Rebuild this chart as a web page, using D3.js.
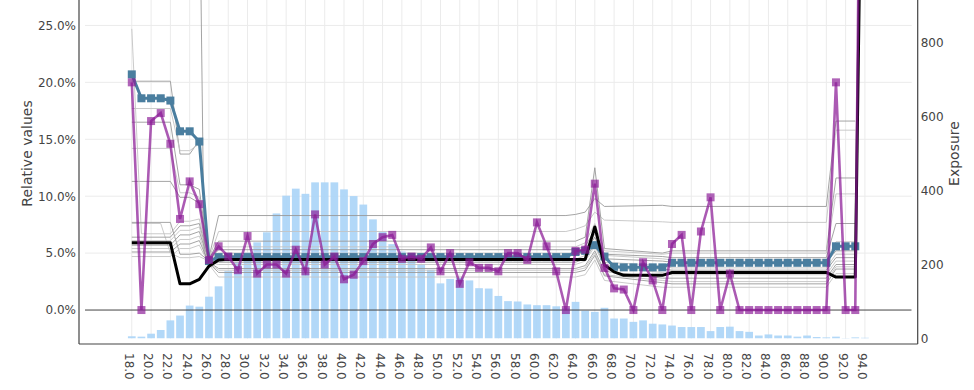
<!DOCTYPE html>
<html><head><meta charset="utf-8">
<script src="https://cdn.jsdelivr.net/npm/d3@7"></script>
<style>
body{margin:0;background:#fff;}
svg text{font-family:"DejaVu Sans",sans-serif;fill:#444;}
</style>
</head><body>
<svg id="chart" width="974" height="390"></svg>
<script>
// ---------- data ----------
const ages = [18,19,20,21,22,23,24,25,26,27,28,29,30,31,32,33,34,35,36,37,38,39,40,41,42,43,44,45,46,47,48,49,50,51,52,53,54,55,56,57,58,59,60,61,62,63,64,65,66,67,68,69,70,71,72,73,74,75,76,77,78,79,80,81,82,83,84,85,86,87,88,89,90,91,92,93,94];

const exposure = [6,5,13,23,49,62,89,86,113,141,
  182,205,232,260,287,338,386,405,391,422,
  422,422,403,385,362,322,288,255,235,215,
  200,186,149,161,164,157,136,135,115,101,
  100,92,90,90,87,82,99,75,72,83,
  54,54,45,49,40,38,35,31,31,31,
  20,31,32,20,18,8,11,8,8,5,
  8,4,3,5,1,3,2];

const observed = [20.0,0,16.6,17.3,14.6,8.0,11.3,9.3,4.4,5.6,
  4.7,3.5,6.5,3.2,4.0,4.0,3.2,5.3,3.4,8.4,
  4.0,4.7,2.7,3.1,4.3,5.8,6.4,6.6,4.5,4.7,
  4.5,5.5,3.4,5.0,2.3,4.2,3.7,3.7,3.4,5.0,
  5.0,4.4,7.7,5.6,3.4,0,5.2,5.3,11.1,3.7,
  1.9,1.8,0,4.2,2.6,0,5.8,6.6,0,6.9,
  9.9,0,3.2,0,0,0,0,0,0,0,
  0,0,0,20.0,0,0,90];

const fitted = [20.7,18.6,18.6,18.6,18.4,15.7,15.7,14.8,4.3,
  4.65,4.65,4.65,4.65,4.65,4.65,4.65,4.65,4.65,4.65,
  4.65,4.65,4.65,4.65,4.65,4.65,4.65,4.65,4.65,4.65,
  4.65,4.65,4.65,4.65,4.65,4.65,4.65,4.65,4.65,4.65,
  4.65,4.65,4.65,4.65,4.65,4.65,4.65,
  5.1,5.2,5.7,4.7,3.8,
  3.75,3.75,3.75,3.75,3.75,
  4.15,4.15,4.15,4.15,4.15,4.15,4.15,4.15,4.15,4.15,
  4.15,4.15,4.15,4.15,4.15,4.15,4.15,
  5.6,5.6,5.6,null];

const model = [5.9,5.9,5.9,5.9,5.9,2.3,2.3,2.7,3.85,4.4,
  4.45,4.45,4.45,4.45,4.45,4.45,4.45,4.45,4.45,4.45,
  4.45,4.45,4.45,4.45,4.45,4.45,4.45,4.45,4.45,4.45,
  4.45,4.45,4.45,4.45,4.45,4.45,4.45,4.45,4.45,4.45,
  4.45,4.45,4.45,4.45,4.45,4.45,4.45,4.45,
  7.3,3.95,3.35,
  3.05,3.05,3.05,3.05,3.05,
  3.3,3.3,3.3,3.3,3.3,3.3,3.3,3.3,3.3,3.3,
  3.3,3.3,3.3,3.3,3.3,3.3,3.3,
  2.9,2.9,2.9,63];

// thin grey profile lines: [age, value %] vertices
const grayLines = [
  [[18,20.1],[22,20.1],[23,13.7],[24,13.7],[25,14.9],[26,4.6],[27,8.3],[63,8.3],[64,8.4],[65,8.6],[66,9.8],[67,9.1],[73,9.2],[74,9.1],[90,9.1],[91,16.6],[93,16.6]],
  [[18,17.7],[22,17.7],[23,14.0],[24,14.0],[25,14.6],[26,4.5],[27,6.9],[63,6.9],[64,7.1],[65,7.4],[66,8.6],[67,7.9],[73,7.75],[74,7.7],[90,7.7],[91,15.8],[93,15.8]],
  [[18,16.5],[22,16.5],[23,11.0],[24,11.0],[25,10.6],[26,4.5],[27,6.05],[64,6.05],[65,6.4],[66,12.5],[67,5.4],[73,5.0],[74,5.2],[90,5.2],[91,11.6],[93,11.6]],
  [[18,14.2],[22,14.2],[23,10.3],[24,10.3],[25,9.9],[26,4.4],[27,5.55],[64,5.55],[65,5.9],[66,7.6],[67,5.2],[73,4.9],[74,5.0],[90,5.0],[91,10.2],[93,10.2]],
  [[18,11.3],[22,11.3],[23,9.9],[24,9.9],[25,9.4],[26,4.4],[27,5.3],[64,5.3],[65,5.6],[66,7.0],[67,4.9],[73,4.7],[74,4.6],[90,4.6],[91,7.6],[93,7.6]],
  [[18,24.7],[19,6.7],[22,6.7],[23,7.8],[24,7.8],[25,8.0],[26,4.4],[27,5.0],[64,5.0],[65,5.3],[66,6.7],[67,4.8],[73,4.5],[74,4.4],[90,4.4],[91,6.0],[93,6.0]],
  [[18,7.7],[22,7.7],[23,4.9],[24,4.9],[25,5.0],[26,4.3],[27,4.8],[64,4.8],[65,5.1],[66,6.4],[67,4.5],[73,4.3],[74,4.2],[90,4.2],[91,5.2],[93,5.2]],
  [[18,7.6],[21,7.6],[22,5.0],[23,4.6],[24,4.6],[25,4.7],[26,4.3],[27,4.45],[64,4.45],[65,4.8],[66,6.0],[67,4.2],[73,3.9],[74,3.7],[90,3.7],[91,4.9],[93,4.9]],
  [[18,6.4],[22,6.4],[23,7.4],[24,7.4],[25,7.6],[26,4.3],[27,4.2],[64,4.2],[65,4.5],[66,5.8],[67,3.9],[73,3.6],[74,3.5],[90,3.5],[91,4.6],[93,4.6]],
  [[18,6.1],[22,6.1],[23,7.0],[24,7.0],[25,7.3],[26,4.2],[27,4.0],[64,4.0],[65,4.3],[66,5.6],[67,3.8],[73,3.3],[74,3.1],[90,3.1],[91,4.3],[93,4.3]],
  [[18,5.7],[22,5.7],[23,6.6],[24,6.6],[25,6.9],[26,4.2],[27,3.65],[64,3.65],[65,3.9],[66,5.2],[67,3.4],[73,2.8],[74,2.8],[90,2.8],[91,4.0],[93,4.0]],
  [[18,5.4],[22,5.4],[23,6.2],[24,6.2],[25,6.5],[26,4.1],[27,3.5],[64,3.5],[65,3.7],[66,5.0],[67,3.1],[73,2.6],[74,2.5],[90,2.5],[91,3.8],[93,3.8]],
  [[18,5.1],[22,5.1],[23,5.8],[24,5.8],[25,6.1],[26,4.1],[27,3.3],[64,3.3],[65,3.5],[66,4.8],[67,3.0],[73,2.4],[74,2.3],[90,2.3],[91,3.6],[93,3.6]],
  [[18,4.7],[22,4.7],[23,5.4],[24,5.4],[25,5.7],[26,4.0],[27,2.9],[64,2.9],[65,3.1],[66,4.4],[67,2.6],[73,2.0],[74,2.0],[90,2.0],[91,3.2],[93,3.2]],
  [[25,40],[25.5,5.0],[26,4.4]]
];

const xTickValues = [18,20,22,24,26,28,30,32,34,36,38,40,42,44,46,48,50,52,54,56,58,60,62,64,66,68,70,72,74,76,78,80,82,84,86,88,90,92,94];
const leftTickValues = [0,5,10,15,20,25];
const rightTickValues = [0,200,400,600,800];

// ---------- layout ----------
const plot = {left:85, right:911.7, top:-31.5, bottom:338.5};
const axisPos = {left:79, right:917.7, bottom:344};

const x = d3.scaleLinear().domain([13.15, 98.85]).range([plot.left, plot.right]);
const yL = d3.scaleLinear().domain([-2.5, 30]).range([plot.bottom, plot.top]);
const yR = d3.scaleLinear().domain([0, 1000]).range([plot.bottom, plot.top]);
const step = x(19) - x(18);

const svg = d3.select("#chart");

svg.append("defs").append("clipPath").attr("id","clip")
  .append("rect").attr("x",plot.left).attr("y",plot.top-10)
  .attr("width",plot.right-plot.left).attr("height",plot.bottom-plot.top+10);

// grid
const grid = svg.append("g");
grid.selectAll("line.v").data(xTickValues).join("line")
  .attr("x1",d=>x(d)).attr("x2",d=>x(d))
  .attr("y1",plot.top).attr("y2",plot.bottom)
  .attr("stroke","#ebebeb").attr("stroke-width",1);
grid.selectAll("line.h").data(leftTickValues.filter(d=>d!==0)).join("line")
  .attr("x1",plot.left).attr("x2",plot.right)
  .attr("y1",d=>yL(d)).attr("y2",d=>yL(d))
  .attr("stroke","#ebebeb").attr("stroke-width",1);

const g = svg.append("g").attr("clip-path","url(#clip)");

// bars
g.append("g").selectAll("rect").data(ages).join("rect")
  .attr("x",(d)=>x(d)-step*0.4)
  .attr("width",step*0.8)
  .attr("y",(d,i)=>yR(exposure[i]))
  .attr("height",(d,i)=>yR(0)-yR(exposure[i]))
  .attr("fill","#abd5f7").attr("opacity",0.92);

// zero line
g.append("line").attr("x1",plot.left).attr("x2",plot.right)
  .attr("y1",yL(0)).attr("y2",yL(0)).attr("stroke","#444").attr("stroke-width",1);

// grey lines
const gl = d3.line().x(d=>x(d[0])).y(d=>yL(d[1]));
g.append("g").selectAll("path").data(grayLines).join("path")
  .attr("d",gl).attr("fill","none")
  .attr("stroke",(d,i)=> i%2===0 ? "#9a9a9a" : "#c4c4c4")
  .attr("stroke-width",0.9);

const line = d3.line().defined(d=>d[1]!==null).x(d=>x(d[0])).y(d=>yL(d[1]));

// fitted (blue)
const blueC = "#4a7e9f";
const fPts = ages.map((a,i)=>[a,fitted[i]]);
g.append("path").attr("d",line(fPts)).attr("fill","none")
  .attr("stroke",blueC).attr("stroke-width",3);
g.append("g").selectAll("rect").data(fPts.filter(d=>d[1]!==null)).join("rect")
  .attr("x",d=>x(d[0])-4).attr("y",d=>yL(d[1])-4)
  .attr("width",8).attr("height",8).attr("fill",blueC);

// model (black)
const mPts = ages.map((a,i)=>[a,model[i]]);
g.append("path").attr("d",line(mPts)).attr("fill","none")
  .attr("stroke","#000").attr("stroke-width",3).attr("stroke-linejoin","round");

// observed (purple)
const oPts = ages.map((a,i)=>[a,observed[i]]);
g.append("path").attr("d",line(oPts)).attr("fill","none")
  .attr("stroke","#8a1a96").attr("stroke-opacity",0.72).attr("stroke-width",2.6);
g.append("g").selectAll("rect").data(oPts).join("rect")
  .attr("x",d=>x(d[0])-4).attr("y",d=>yL(d[1])-4)
  .attr("width",8).attr("height",8).attr("fill","#8a1a96").attr("opacity",0.68);

// axes
const axL = svg.append("g").attr("transform",`translate(${axisPos.left},0)`)
  .call(d3.axisLeft(yL).tickValues(leftTickValues).tickFormat(d=>d.toFixed(1)+"%").tickSize(0).tickPadding(3));
const axR = svg.append("g").attr("transform",`translate(${axisPos.right},0)`)
  .call(d3.axisRight(yR).tickValues(rightTickValues).tickFormat(d3.format("d")).tickSize(0).tickPadding(3));
const axB = svg.append("g").attr("transform",`translate(0,${axisPos.bottom})`)
  .call(d3.axisBottom(x).tickValues(xTickValues).tickFormat(d=>d.toFixed(1)).tickSize(0));
[axL,axR,axB].forEach(a=>{a.select(".domain").remove(); a.selectAll("text").style("font-size","12px").attr("fill","#444");});
axB.selectAll("text").attr("transform","rotate(90)").attr("text-anchor","start")
  .attr("x",9).attr("y",0).attr("dy","0.63em");

// axis lines
svg.append("line").attr("x1",axisPos.left).attr("x2",axisPos.left).attr("y1",0).attr("y2",axisPos.bottom)
  .attr("stroke","#444").attr("stroke-width",1.2);
svg.append("line").attr("x1",axisPos.right).attr("x2",axisPos.right).attr("y1",0).attr("y2",axisPos.bottom)
  .attr("stroke","#444").attr("stroke-width",1.2);
svg.append("line").attr("x1",axisPos.left).attr("x2",axisPos.right).attr("y1",axisPos.bottom).attr("y2",axisPos.bottom)
  .attr("stroke","#444").attr("stroke-width",1.2);

// titles
const midY = (plot.top+plot.bottom)/2;
svg.append("text").attr("transform",`translate(31.5,${midY}) rotate(-90)`)
  .attr("text-anchor","middle").style("font-size","14px").text("Relative values");
svg.append("text").attr("transform",`translate(958.5,${midY}) rotate(-90)`)
  .attr("text-anchor","middle").style("font-size","14px").text("Exposure");
</script>
</body></html>
